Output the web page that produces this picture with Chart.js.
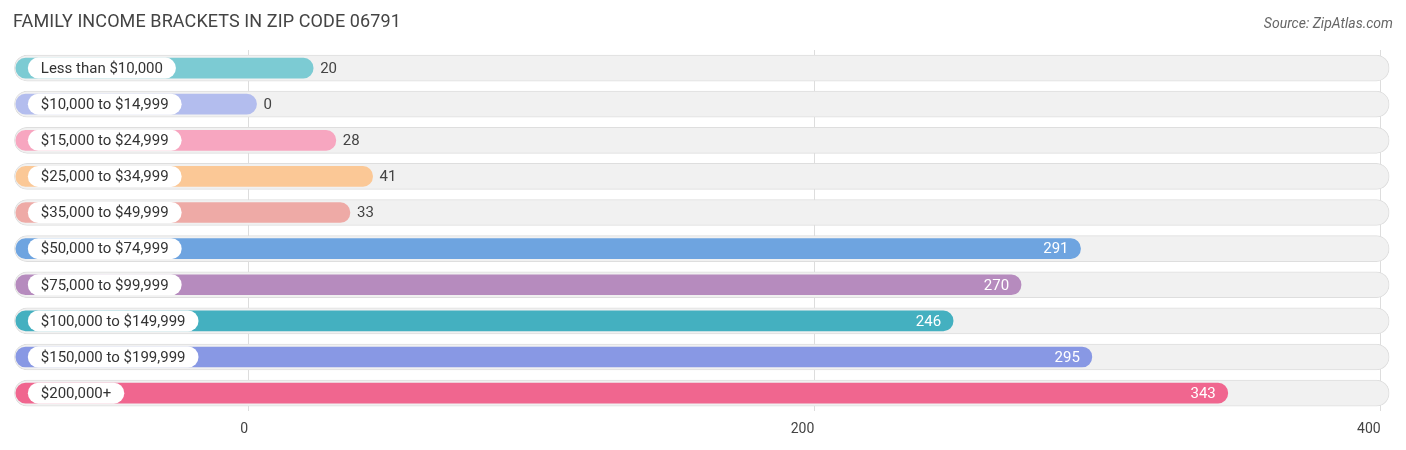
<!DOCTYPE html>
<html>
<head>
<meta charset="utf-8">
<script src="https://cdn.jsdelivr.net/npm/chart.js@4/dist/chart.umd.min.js"></script>
<style>
  body { margin: 0; background: #fff; font-family: Roboto, "Open Sans", sans-serif; }
  #wrap { position: relative; width: 1406px; height: 450px; }
  #title { position: absolute; left: 13px; top: 10px; font-size: 18px; color: #444; letter-spacing: 0.1px; }
  #source { position: absolute; right: 13px; top: 15px; font-size: 14px; color: #666; font-style: italic; }
</style>
</head>
<body>
<div id="wrap">
  <canvas id="chart" width="1406" height="450"></canvas>
  <div id="title">FAMILY INCOME BRACKETS IN ZIP CODE 06791</div>
  <div id="source">Source: ZipAtlas.com</div>
</div>
<script>
const categories = ["Less than $10,000", "$10,000 to $14,999", "$15,000 to $24,999", "$25,000 to $34,999",
  "$35,000 to $49,999", "$50,000 to $74,999", "$75,000 to $99,999", "$100,000 to $149,999",
  "$150,000 to $199,999", "$200,000+"];
const values = [20, 0, 28, 41, 33, 291, 270, 246, 295, 343];
const colors = ["#7ccbd3", "#b3bdee", "#f7a6c0", "#fbc896", "#eeaaa6", "#6ea4e0", "#b68bbe", "#44b0c0", "#8898e4", "#f0668f"];
const tickValues = [0, 200, 400];

const xMin = -83, xMax = 404, barStart = -82, capPad = 3;

const labelPlugin = {
  id: "labels",
  afterDatasetsDraw(chart) {
    const ctx = chart.ctx;
    const meta = chart.getDatasetMeta(1);
    const x = chart.scales.x;
    ctx.save();
    ctx.font = "15px Roboto, sans-serif";
    ctx.textBaseline = "middle";
    meta.data.forEach((bar, i) => {
      const y = bar.y;
      const text = categories[i];
      const w = ctx.measureText(text).width + 26;
      const left = x.getPixelForValue(barStart) + 12;
      ctx.fillStyle = "#fff";
      ctx.beginPath();
      ctx.roundRect(left, y - 10.5, w, 21, 10.5);
      ctx.fill();
      ctx.fillStyle = "#333";
      ctx.textAlign = "left";
      ctx.fillText(text, left + 13, y + 1);
      const end = x.getPixelForValue(values[i] + capPad);
      if (values[i] > 150) {
        ctx.fillStyle = "#fff";
        ctx.textAlign = "right";
        ctx.fillText(values[i], end - 12, y + 1);
      } else {
        ctx.fillStyle = "#444";
        ctx.textAlign = "left";
        ctx.fillText(values[i], end + 7, y + 1);
      }
    });
    ctx.restore();
  }
};

new Chart(document.getElementById("chart"), {
  type: "bar",
  data: {
    labels: categories,
    datasets: [
      {
        data: categories.map(() => [xMin + 0.5, xMax - 1]),
        backgroundColor: "#f1f1f1",
        borderColor: "#dedede",
        borderWidth: 1,
        borderRadius: 13,
        borderSkipped: false,
        barThickness: 26,
        grouped: false,
        order: 2,
      },
      {
        data: values.map((v) => [barStart, v + capPad]),
        backgroundColor: colors,
        borderRadius: 10,
        borderSkipped: false,
        barThickness: 20,
        grouped: false,
        order: 1,
      },
    ],
  },
  options: {
    indexAxis: "y",
    responsive: false,
    animation: false,
    layout: { padding: { top: 50, left: 13, right: 14, bottom: 2 } },
    plugins: { legend: { display: false }, tooltip: { enabled: false } },
    scales: {
      x: {
        min: xMin,
        max: xMax,
        afterBuildTicks: (axis) => { axis.ticks = tickValues.map((v) => ({ value: v })); },
        grid: { color: "#dddddd", drawTicks: false },
        border: { display: false },
        ticks: { color: "#444", font: { size: 14, family: "Roboto" }, padding: 10,
          callback: (v) => v, align: "end" },
      },
      y: {
        display: false,
        grid: { display: false },
      },
    },
  },
  plugins: [labelPlugin],
});
</script>
</body>
</html>
